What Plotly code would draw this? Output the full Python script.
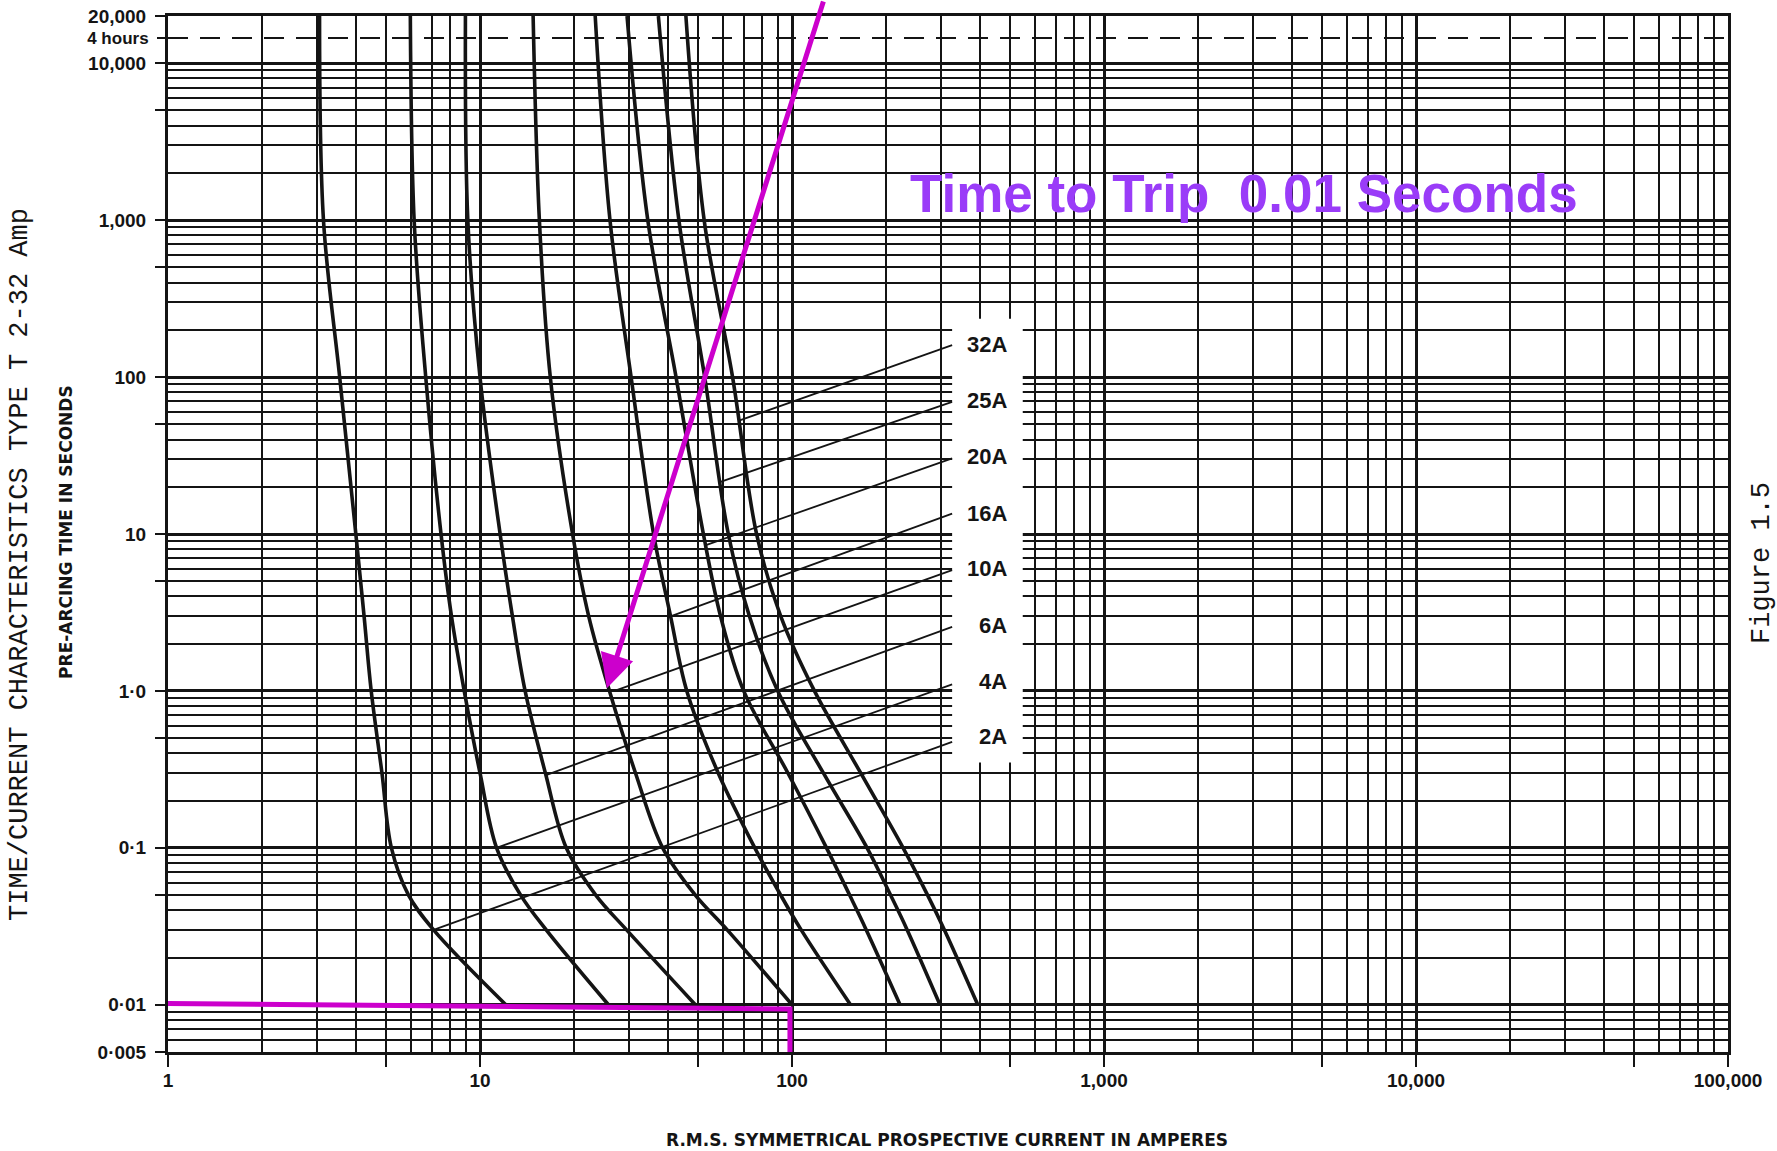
import numpy as np
import plotly.graph_objects as go

# ---------------- data ----------------
times = [20000, 1000, 100, 10, 3, 1, 0.3, 0.1, 0.05, 0.03, 0.01]   # seconds
ratings = ["2A", "4A", "6A", "10A", "16A", "20A", "25A", "32A"]
cur_2A = [3.06, 3.15, 3.55, 4.0, 4.25, 4.48, 4.85, 5.2, 5.9, 7.1, 12.1]
cur_4A = [5.98, 6.15, 6.7, 7.5, 8.1, 8.9, 10.0, 11.3, 13.5, 16.3, 25.8]
cur_6A = [8.98, 9.14, 10.0, 11.6, 12.7, 13.95, 16.2, 18.9, 23.5, 29.5, 49]
cur_10A = [14.8, 15.5, 16.8, 19.8, 22.3, 26, 31.5, 38.5, 49, 62, 100]
cur_16A = [23.4, 26.1, 30.5, 36, 40.8, 46, 58, 76, 92, 107, 154]
cur_20A = [29.6, 34.5, 42.5, 52, 59, 70, 97, 129, 153, 173, 222]
cur_25A = [37.3, 43.4, 52.5, 62.5, 73, 90, 126, 174, 207, 234, 298]
cur_32A = [45.7, 52.3, 64.5, 77, 92, 118, 166, 227, 272, 308, 394]
curves = [cur_2A, cur_4A, cur_6A, cur_10A, cur_16A, cur_20A, cur_25A, cur_32A]

# leader lines (start on curve, end at label column) and label positions
leader_curve_current = [7.1, 11.3, 16.2, 27, 41, 53, 59, 68]
leader_curve_time = [0.03, 0.1, 0.29, 1.0, 3.0, 8.5, 21.5, 53]
leader_end_current = 326
leader_end_time = [0.473, 1.1, 2.56, 5.88, 13.5, 30.3, 69.5, 160]
label_current = 496
label_time = [0.51, 1.15, 2.6, 6.0, 13.6, 31, 71, 162]
label_box_current = [326, 549]
label_box_time = [0.35, 235]

x_ticks = [1, 10, 100, 1000, 10000, 100000]
x_ticktext = ["1", "10", "100", "1,000", "10,000", "100,000"]
y_ticks = [0.005, 0.01, 0.1, 1, 10, 100, 1000, 10000, 20000]
y_ticktext = ["0·005", "0·01", "0·1", "1·0", "10", "100", "1,000", "10,000", "20,000"]
four_hours = 14400

trip_line_current = [1, 98.5, 98.5]
trip_line_time = [0.0102, 0.0094, 0.005]
arrow_tip_current = 25.5
arrow_tip_time = 1.04

# ---------------- styling ----------------
INK = "#141414"
MAGENTA = "#CC00CC"
VIOLET = "#9A3CF8"
SANS = "Liberation Sans, Arial, Helvetica, sans-serif"
MONO = "Liberation Mono, Courier New, monospace"
GRID_W = 1.8

x_range = [0, 5]
y_range = [np.log10(0.005), np.log10(20000)]

fig = go.Figure()

# fuse curves
for name, cur in zip(ratings, curves):
    fig.add_trace(go.Scatter(x=cur, y=times, mode="lines", name=name,
                             line=dict(color=INK, width=3.6, shape="spline", smoothing=1.0),
                             hoverinfo="skip"))

# leader lines
for i in range(len(ratings)):
    fig.add_trace(go.Scatter(x=[leader_curve_current[i], leader_end_current],
                             y=[leader_curve_time[i], leader_end_time[i]],
                             mode="lines", line=dict(color=INK, width=1.8),
                             hoverinfo="skip"))

# magenta 0.01 s trip line
fig.add_trace(go.Scatter(x=trip_line_current, y=trip_line_time, mode="lines",
                         line=dict(color=MAGENTA, width=5), hoverinfo="skip"))

# dummy traces for the overlay axes
fig.add_trace(go.Scatter(x=[None], y=[None], xaxis="x2", yaxis="y2", mode="lines", hoverinfo="skip"))
fig.add_trace(go.Scatter(x=[None], y=[None], xaxis="x", yaxis="y3", mode="lines", hoverinfo="skip"))

# white panel behind labels
fig.add_shape(type="rect", xref="x", yref="y",
              x0=label_box_current[0], x1=label_box_current[1],
              y0=label_box_time[0], y1=label_box_time[1],
              fillcolor="white", line=dict(width=0), layer="between")

# labels
for i, name in enumerate(ratings):
    fig.add_annotation(x=np.log10(label_current), y=np.log10(label_time[i]), xref="x", yref="y",
                       text=name, showarrow=False, xanchor="right", yanchor="middle",
                       font=dict(family=SANS, size=22, color=INK, weight="bold"))

# magenta arrow
fig.add_annotation(x=np.log10(arrow_tip_current), y=np.log10(arrow_tip_time), xref="x", yref="y",
                   ax=217, ay=-689, axref="pixel", ayref="pixel", text="", showarrow=True,
                   arrowhead=2, arrowsize=1.35, arrowwidth=5, arrowcolor=MAGENTA, standoff=0)

fig.add_annotation(x=0.690, y=0.829, xref="paper", yref="paper", text="Time to Trip  0.01 Seconds",
                   showarrow=False, xanchor="center", yanchor="middle",
                   font=dict(family=SANS, size=53, color=VIOLET, weight="bold"))

# titles
fig.add_annotation(x=-0.0949, y=0.471, xref="paper", yref="paper",
                   text="TIME/CURRENT CHARACTERISTICS TYPE T 2-32 Amp", textangle=-90,
                   xanchor="center", yanchor="middle",
                   showarrow=False, font=dict(family=MONO, size=27, color=INK))
fig.add_annotation(x=-0.0654, y=0.502, xref="paper", yref="paper",
                   text="PRE-ARCING TIME IN SECONDS", textangle=-90,
                   xanchor="center", yanchor="middle",
                   showarrow=False, font=dict(family="DejaVu Sans", size=17, color=INK, weight="bold"))
fig.add_annotation(x=1.0218, y=0.472, xref="paper", yref="paper",
                   text="Figure 1.5", textangle=-90,
                   xanchor="center", yanchor="middle",
                   showarrow=False, font=dict(family=MONO, size=27, color=INK))
fig.add_annotation(x=0.4994, y=-0.085, xref="paper", yref="paper",
                   text="R.M.S. SYMMETRICAL PROSPECTIVE CURRENT IN AMPERES",
                   xanchor="center", yanchor="middle",
                   showarrow=False, font=dict(family="DejaVu Sans", size=17, color=INK, weight="bold"))

# axis tick definitions
x_major = sorted(x_ticks + [5 * v for v in x_ticks[:-1]])
x_major_text = [x_ticktext[x_ticks.index(v)] if v in x_ticks else "" for v in x_major]
x_minor = [m * 10 ** e for e in range(0, 5) for m in (2, 3, 4, 6, 7, 8, 9)]

y_fives = [5 * 10 ** e for e in range(-2, 4)]
y_major = sorted(y_ticks + y_fives)
y_major_text = [y_ticktext[y_ticks.index(v)] if v in y_ticks else "" for v in y_major]
y_minor = [m * 10 ** e for e in range(-3, 5) for m in (2, 3, 4, 6, 7, 8, 9)
           if 0.005 < m * 10 ** e < 20000]
y_decades = [10 ** e for e in range(-2, 5)]

tickfont = dict(family=SANS, size=19, color=INK, weight="bold")

fig.update_layout(
    width=1777, height=1151,
    margin=dict(l=168, r=49, t=16, b=99, autoexpand=False),
    paper_bgcolor="white", plot_bgcolor="white",
    showlegend=False, hovermode=False,
    xaxis=dict(type="log", range=x_range, tickvals=x_major, ticktext=x_major_text, automargin=False,
               ticks="outside", ticklen=12, tickwidth=2, tickcolor=INK, tickfont=tickfont,
               ticklabelstandoff=-3,
               showgrid=True, gridcolor=INK, gridwidth=GRID_W,
               minor=dict(tickvals=x_minor, showgrid=True, gridcolor=INK, gridwidth=GRID_W, ticks=""),
               showline=True, linecolor=INK, linewidth=3, mirror=True, zeroline=False),
    xaxis2=dict(type="log", range=x_range, overlaying="x", anchor="y", side="bottom", automargin=False,
                tickvals=x_ticks, showticklabels=False, ticks="",
                showgrid=True, gridcolor=INK, gridwidth=3, showline=False, zeroline=False),
    yaxis=dict(type="log", range=y_range, tickvals=y_major, ticktext=y_major_text, automargin=False,
               ticks="outside", ticklen=10, tickwidth=2, tickcolor=INK, tickfont=tickfont,
               ticklabelstandoff=5,
               showgrid=True, gridcolor=INK, gridwidth=GRID_W,
               minor=dict(tickvals=y_minor, showgrid=True, gridcolor=INK, gridwidth=GRID_W, ticks=""),
               showline=True, linecolor=INK, linewidth=3, mirror=True, zeroline=False),
    yaxis2=dict(type="log", range=y_range, overlaying="y", anchor="x", side="left", automargin=False,
                tickvals=[four_hours], ticktext=["4 hours"],
                ticks="outside", ticklen=10, tickwidth=2, tickcolor=INK,
                tickfont=dict(family=SANS, size=17, color=INK, weight="bold"),
                ticklabelstandoff=5,
                showgrid=True, gridcolor=INK, gridwidth=1.5, griddash="20px,12px",
                showline=False, zeroline=False),
    yaxis3=dict(type="log", range=y_range, overlaying="y", anchor="x", side="left", automargin=False,
                tickvals=y_decades, showticklabels=False, ticks="",
                showgrid=True, gridcolor=INK, gridwidth=3, showline=False, zeroline=False),
)

fig.write_html("out.html", config={"displayModeBar": False},
               post_script="document.body.style.margin='0px';")
